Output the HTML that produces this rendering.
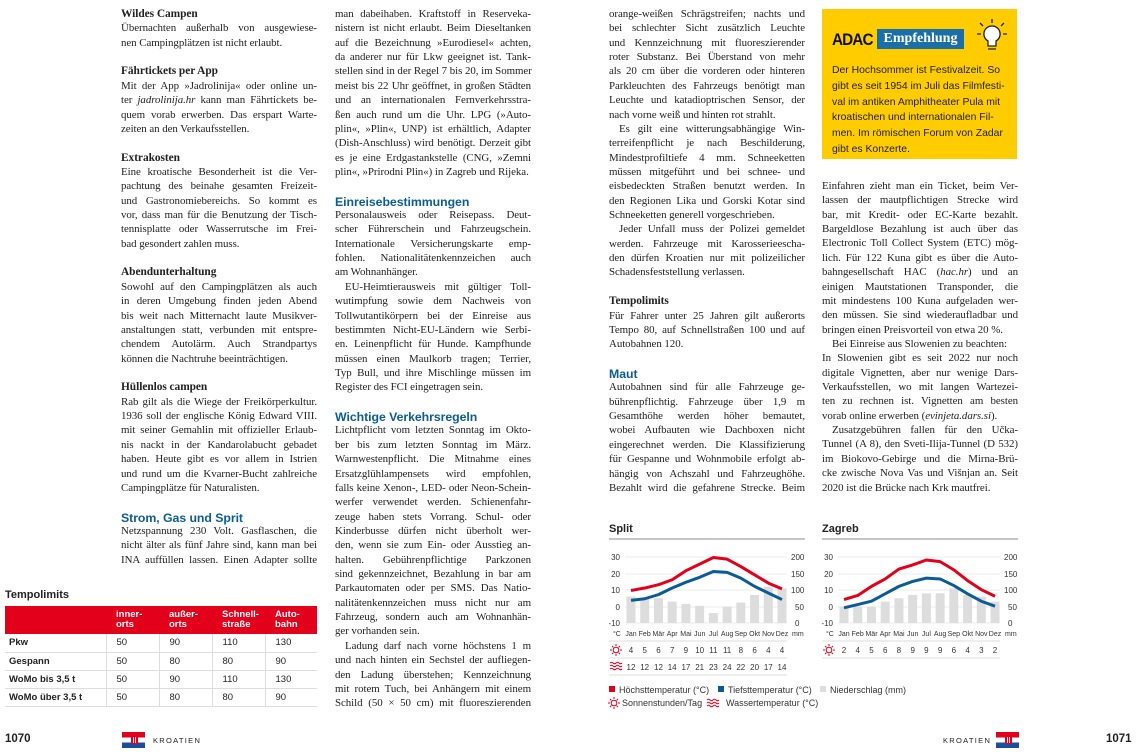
<!DOCTYPE html>
<html><head><meta charset="utf-8">
<style>
*{margin:0;padding:0;box-sizing:border-box}
body{width:1138px;height:755px;background:#fff;position:relative;overflow:hidden;font-family:"Liberation Serif",serif;color:#222}
.col{position:absolute;top:7px;width:196px;font-size:10.9px;line-height:14.36px;letter-spacing:-0.05px}
.col div{height:14.36px;white-space:nowrap;text-align:justify;text-align-last:justify;overflow:visible}
.col div.e{text-align-last:left}
.col div.i{text-indent:10px}
.col div.b{font-weight:bold;text-align-last:left;font-size:11.4px}
.col div.h{font-family:"Liberation Sans",sans-serif;font-weight:bold;color:#0b5c96;font-size:12.3px;text-align-last:left;padding-top:1px}
.sans{font-family:"Liberation Sans",sans-serif}
table{border-collapse:collapse;font-family:"Liberation Sans",sans-serif;font-size:9.5px;position:absolute;left:5px;top:606px;width:312px}
th{background:#e2001a;color:#fff;text-align:left;font-weight:bold;line-height:10px;height:28px;padding-left:10px;vertical-align:middle}
td{height:18px;border-bottom:1px solid #ddd;padding-left:10px;color:#222}
td+td{border-left:1px solid #ddd}
td:first-child{font-weight:bold;padding-left:4px}
.flag{position:absolute;width:23px;height:16px;background:linear-gradient(#e2001a 0 33%,#fff 33% 66%,#1a4fa0 66%)}
.flag:after{content:"";position:absolute;left:9px;top:4px;width:5px;height:6px;background:repeating-linear-gradient(90deg,#e2001a 0 1px,#fff 1px 2px);border:1px solid #e2001a}
</style></head><body>

<div class="col" style="left:121px">
<div class="b">Wildes Campen</div>
<div>Übernachten außerhalb von ausgewiese-</div>
<div class="e">nen Campingplätzen ist nicht erlaubt.</div>
<div></div>
<div class="b">Fährtickets per App</div>
<div>Mit der App »Jadrolinija« oder online un-</div>
<div>ter <i>jadrolinija.hr</i> kann man Fährtickets be-</div>
<div>quem vorab erwerben. Das erspart Warte-</div>
<div class="e">zeiten an den Verkaufsstellen.</div>
<div></div>
<div class="b">Extrakosten</div>
<div>Eine kroatische Besonderheit ist die Ver-</div>
<div>pachtung des beinahe gesamten Freizeit-</div>
<div>und Gastronomiebereichs. So kommt es</div>
<div>vor, dass man für die Benutzung der Tisch-</div>
<div>tennisplatte oder Wasserrutsche im Frei-</div>
<div class="e">bad gesondert zahlen muss.</div>
<div></div>
<div class="b">Abendunterhaltung</div>
<div>Sowohl auf den Campingplätzen als auch</div>
<div>in deren Umgebung finden jeden Abend</div>
<div>bis weit nach Mitternacht laute Musikver-</div>
<div>anstaltungen statt, verbunden mit entspre-</div>
<div>chendem Autolärm. Auch Strandpartys</div>
<div class="e">können die Nachtruhe beeinträchtigen.</div>
<div></div>
<div class="b">Hüllenlos campen</div>
<div>Rab gilt als die Wiege der Freikörperkultur.</div>
<div>1936 soll der englische König Edward VIII.</div>
<div>mit seiner Gemahlin mit offizieller Erlaub-</div>
<div>nis nackt in der Kandarolabucht gebadet</div>
<div>haben. Heute gibt es vor allem in Istrien</div>
<div>und rund um die Kvarner-Bucht zahlreiche</div>
<div class="e">Campingplätze für Naturalisten.</div>
<div></div>
<div class="h">Strom, Gas und Sprit</div>
<div>Netzspannung 230 Volt. Gasflaschen, die</div>
<div>nicht älter als fünf Jahre sind, kann man bei</div>
<div>INA auffüllen lassen. Einen Adapter sollte</div>
</div>

<div class="col" style="left:335px">
<div>man dabeihaben. Kraftstoff in Reserveka-</div>
<div>nistern ist nicht erlaubt. Beim Dieseltanken</div>
<div>auf die Bezeichnung »Eurodiesel« achten,</div>
<div>da anderer nur für Lkw geeignet ist. Tank-</div>
<div>stellen sind in der Regel 7 bis 20, im Sommer</div>
<div>meist bis 22 Uhr geöffnet, in großen Städten</div>
<div>und an internationalen Fernverkehrsstra-</div>
<div>ßen auch rund um die Uhr. LPG (»Auto-</div>
<div>plin«, »Plin«, UNP) ist erhältlich, Adapter</div>
<div>(Dish-Anschluss) wird benötigt. Derzeit gibt</div>
<div>es je eine Erdgastankstelle (CNG, »Zemni</div>
<div class="e">plin«, »Prirodni Plin«) in Zagreb und Rijeka.</div>
<div></div>
<div class="h">Einreisebestimmungen</div>
<div>Personalausweis oder Reisepass. Deut-</div>
<div>scher Führerschein und Fahrzeugschein.</div>
<div>Internationale Versicherungskarte emp-</div>
<div>fohlen. Nationalitätenkennzeichen auch</div>
<div class="e">am Wohnanhänger.</div>
<div class="i">EU-Heimtierausweis mit gültiger Toll-</div>
<div>wutimpfung sowie dem Nachweis von</div>
<div>Tollwutantikörpern bei der Einreise aus</div>
<div>bestimmten Nicht-EU-Ländern wie Serbi-</div>
<div>en. Leinenpflicht für Hunde. Kampfhunde</div>
<div>müssen einen Maulkorb tragen; Terrier,</div>
<div>Typ Bull, und ihre Mischlinge müssen im</div>
<div class="e">Register des FCI eingetragen sein.</div>
<div></div>
<div class="h">Wichtige Verkehrsregeln</div>
<div>Lichtpflicht vom letzten Sonntag im Okto-</div>
<div>ber bis zum letzten Sonntag im März.</div>
<div>Warnwestenpflicht. Die Mitnahme eines</div>
<div>Ersatzglühlampensets wird empfohlen,</div>
<div>falls keine Xenon-, LED- oder Neon-Schein-</div>
<div>werfer verwendet werden. Schienenfahr-</div>
<div>zeuge haben stets Vorrang. Schul- oder</div>
<div>Kinderbusse dürfen nicht überholt wer-</div>
<div>den, wenn sie zum Ein- oder Ausstieg an-</div>
<div>halten. Gebührenpflichtige Parkzonen</div>
<div>sind gekennzeichnet, Bezahlung in bar am</div>
<div>Parkautomaten oder per SMS. Das Natio-</div>
<div>nalitätenkennzeichen muss nicht nur am</div>
<div>Fahrzeug, sondern auch am Wohnanhän-</div>
<div class="e">ger vorhanden sein.</div>
<div class="i">Ladung darf nach vorne höchstens 1 m</div>
<div>und nach hinten ein Sechstel der aufliegen-</div>
<div>den Ladung überstehen; Kennzeichnung</div>
<div>mit rotem Tuch, bei Anhängern mit einem</div>
<div>Schild (50 × 50 cm) mit fluoreszierenden</div>
</div>

<div class="col" style="left:609px">
<div>orange-weißen Schrägstreifen; nachts und</div>
<div>bei schlechter Sicht zusätzlich Leuchte</div>
<div>und Kennzeichnung mit fluoreszierender</div>
<div>roter Substanz. Bei Überstand von mehr</div>
<div>als 20 cm über die vorderen oder hinteren</div>
<div>Parkleuchten des Fahrzeugs benötigt man</div>
<div>Leuchte und katadioptrischen Sensor, der</div>
<div class="e">nach vorne weiß und hinten rot strahlt.</div>
<div class="i">Es gilt eine witterungsabhängige Win-</div>
<div>terreifenpflicht je nach Beschilderung,</div>
<div>Mindestprofiltiefe 4 mm. Schneeketten</div>
<div>müssen mitgeführt und bei schnee- und</div>
<div>eisbedeckten Straßen benutzt werden. In</div>
<div>den Regionen Lika und Gorski Kotar sind</div>
<div class="e">Schneeketten generell vorgeschrieben.</div>
<div class="i">Jeder Unfall muss der Polizei gemeldet</div>
<div>werden. Fahrzeuge mit Karosserieescha-</div>
<div>den dürfen Kroatien nur mit polizeilicher</div>
<div class="e">Schadensfeststellung verlassen.</div>
<div></div>
<div class="b">Tempolimits</div>
<div>Für Fahrer unter 25 Jahren gilt außerorts</div>
<div>Tempo 80, auf Schnellstraßen 100 und auf</div>
<div class="e">Autobahnen 120.</div>
<div></div>
<div class="h">Maut</div>
<div>Autobahnen sind für alle Fahrzeuge ge-</div>
<div>bührenpflichtig. Fahrzeuge über 1,9 m</div>
<div>Gesamthöhe werden höher bemautet,</div>
<div>wobei Aufbauten wie Dachboxen nicht</div>
<div>eingerechnet werden. Die Klassifizierung</div>
<div>für Gespanne und Wohnmobile erfolgt ab-</div>
<div>hängig von Achszahl und Fahrzeughöhe.</div>
<div>Bezahlt wird die gefahrene Strecke. Beim</div>
</div>

<div class="col" style="left:822px;top:179px">
<div>Einfahren zieht man ein Ticket, beim Ver-</div>
<div>lassen der mautpflichtigen Strecke wird</div>
<div>bar, mit Kredit- oder EC-Karte bezahlt.</div>
<div>Bargeldlose Bezahlung ist auch über das</div>
<div>Electronic Toll Collect System (ETC) mög-</div>
<div>lich. Für 122 Kuna gibt es über die Auto-</div>
<div>bahngesellschaft HAC (<i>hac.hr</i>) und an</div>
<div>einigen Mautstationen Transponder, die</div>
<div>mit mindestens 100 Kuna aufgeladen wer-</div>
<div>den müssen. Sie sind wiederaufladbar und</div>
<div class="e">bringen einen Preisvorteil von etwa 20 %.</div>
<div class="i e">Bei Einreise aus Slowenien zu beachten:</div>
<div>In Slowenien gibt es seit 2022 nur noch</div>
<div>digitale Vignetten, aber nur wenige Dars-</div>
<div>Verkaufsstellen, wo mit langen Wartezei-</div>
<div>ten zu rechnen ist. Vignetten am besten</div>
<div class="e">vorab online erwerben (<i>evinjeta.dars.si</i>).</div>
<div class="i">Zusatzgebühren fallen für den Učka-</div>
<div>Tunnel (A 8), den Sveti-Ilija-Tunnel (D 532)</div>
<div>im Biokovo-Gebirge und die Mirna-Brü-</div>
<div>cke zwische Nova Vas und Višnjan an. Seit</div>
<div class="e">2020 ist die Brücke nach Krk mautfrei.</div>
</div>

<!-- ADAC box -->
<div style="position:absolute;left:822px;top:9px;width:195px;height:150px;background:#ffcc00"></div>
<div class="sans" style="position:absolute;left:832px;top:30px;font-size:17px;font-weight:bold;letter-spacing:-1px;transform:scaleX(0.9);transform-origin:left;color:#111">ADAC</div>
<div style="position:absolute;left:877px;top:29px;width:87px;height:20px;background:#1a6fa8;color:#fff;font-weight:bold;font-size:14px;line-height:20px;text-align:center">Empfehlung</div>
<svg style="position:absolute;left:975px;top:18px" width="34" height="36" viewBox="0 0 34 36"><g stroke="#222" stroke-width="1.3" fill="none"><path d="M17 8a8 8 0 0 1 4 15v5h-8v-5a8 8 0 0 1 4-15z" fill="#fff"/><path d="M13 31h8M17 1v4M5 5l3 3M29 5l-3 3M2 16h4M28 16h4"/></g></svg>
<div class="sans" style="position:absolute;left:832px;top:63px;font-size:10.4px;line-height:15.8px;color:#222">Der Hochsommer ist Festivalzeit. So<br>gibt es seit 1954 im Juli das Filmfesti-<br>val im antiken Amphitheater Pula mit<br>kroatischen und internationalen Fil-<br>men. Im römischen Forum von Zadar<br>gibt es Konzerte.</div>

<!-- Table -->
<div class="sans" style="position:absolute;left:5px;top:589px;font-size:11px;font-weight:bold">Tempolimits</div>
<table>
<tr><th style="width:101px"></th><th style="width:53px">inner-<br>orts</th><th style="width:53px">außer-<br>orts</th><th style="width:53px">Schnell-<br>straße</th><th>Auto-<br>bahn</th></tr>
<tr><td>Pkw</td><td>50</td><td>90</td><td>110</td><td>130</td></tr>
<tr><td>Gespann</td><td>50</td><td>80</td><td>80</td><td>90</td></tr>
<tr><td>WoMo bis 3,5 t</td><td>50</td><td>90</td><td>110</td><td>130</td></tr>
<tr><td>WoMo über 3,5 t</td><td>50</td><td>80</td><td>80</td><td>90</td></tr>
</table>

<!-- Footer -->
<div class="sans" style="position:absolute;left:5px;top:733px;font-size:11.5px;font-weight:bold">1070</div>
<div class="flag" style="left:122px;top:732px"></div>
<div class="sans" style="position:absolute;left:153px;top:736px;font-size:7.5px;letter-spacing:1.3px">KROATIEN</div>
<div class="sans" style="position:absolute;left:943px;top:736px;font-size:7.5px;letter-spacing:1.3px">KROATIEN</div>
<div class="flag" style="left:996px;top:732px"></div>
<div class="sans" style="position:absolute;left:1106px;top:733px;font-size:11.5px;font-weight:bold">1071</div>

<!-- Charts -->
<svg id="ch" style="position:absolute;left:0;top:0" width="1138" height="755" font-family="Liberation Sans, sans-serif" font-size="8" fill="#333">
<g id="c1">
<text x="609" y="532" font-size="11" font-weight="bold" fill="#222">Split</text>
<line x1="609" y1="539" x2="805" y2="539" stroke="#666" stroke-width="0.8"/>
<g text-anchor="end"><text x="620" y="560">30</text><text x="620" y="577">20</text><text x="620" y="593">10</text><text x="620" y="610">0</text><text x="620" y="626">-10</text></g>
<g><text x="791" y="560">200</text><text x="791" y="577">150</text><text x="791" y="593">100</text><text x="795" y="610">50</text><text x="795" y="626">0</text><text x="792" y="636" font-size="7">mm</text></g>
<text x="613" y="636" font-size="7">°C</text>
<g text-anchor="middle" font-size="7"><text x="631" y="636">Jan</text><text x="644.7" y="636">Feb</text><text x="658.5" y="636">Mär</text><text x="672.2" y="636">Apr</text><text x="685.9" y="636">Mai</text><text x="699.7" y="636">Jun</text><text x="713.4" y="636">Jul</text><text x="727.1" y="636">Aug</text><text x="740.8" y="636">Sep</text><text x="754.6" y="636">Okt</text><text x="768.3" y="636">Nov</text><text x="782" y="636">Dez</text></g>
<line x1="609" y1="641" x2="787" y2="641" stroke="#ddd"/><line x1="609" y1="658" x2="787" y2="658" stroke="#ddd"/><line x1="609" y1="675" x2="787" y2="675" stroke="#ddd"/>
<g text-anchor="middle"><text x="631" y="653">4</text><text x="644.7" y="653">5</text><text x="658.5" y="653">6</text><text x="672.2" y="653">7</text><text x="685.9" y="653">9</text><text x="699.7" y="653">10</text><text x="713.4" y="653">11</text><text x="727.1" y="653">11</text><text x="740.8" y="653">8</text><text x="754.6" y="653">6</text><text x="768.3" y="653">4</text><text x="782" y="653">4</text></g>
<g text-anchor="middle"><text x="631" y="670">12</text><text x="644.7" y="670">12</text><text x="658.5" y="670">12</text><text x="672.2" y="670">14</text><text x="685.9" y="670">17</text><text x="699.7" y="670">21</text><text x="713.4" y="670">23</text><text x="727.1" y="670">24</text><text x="740.8" y="670">22</text><text x="754.6" y="670">20</text><text x="768.3" y="670">17</text><text x="782" y="670">14</text></g>
</g>
<g>
<text x="822" y="532" font-size="11" font-weight="bold" fill="#222">Zagreb</text>
<line x1="822" y1="539" x2="1018" y2="539" stroke="#666" stroke-width="0.8"/>
<g text-anchor="end"><text x="833" y="560">30</text><text x="833" y="577">20</text><text x="833" y="593">10</text><text x="833" y="610">0</text><text x="833" y="626">-10</text></g>
<g><text x="1004" y="560">200</text><text x="1004" y="577">150</text><text x="1004" y="593">100</text><text x="1008" y="610">50</text><text x="1008" y="626">0</text><text x="1005" y="636" font-size="7">mm</text></g>
<text x="826" y="636" font-size="7">°C</text>
<g text-anchor="middle" font-size="7"><text x="844" y="636">Jan</text><text x="857.7" y="636">Feb</text><text x="871.5" y="636">Mär</text><text x="885.2" y="636">Apr</text><text x="898.9" y="636">Mai</text><text x="912.7" y="636">Jun</text><text x="926.4" y="636">Jul</text><text x="940.1" y="636">Aug</text><text x="953.8" y="636">Sep</text><text x="967.6" y="636">Okt</text><text x="981.3" y="636">Nov</text><text x="995" y="636">Dez</text></g>
<line x1="822" y1="641" x2="1000" y2="641" stroke="#ddd"/><line x1="822" y1="658" x2="1000" y2="658" stroke="#ddd"/>
<g text-anchor="middle"><text x="844" y="653">2</text><text x="857.7" y="653">4</text><text x="871.5" y="653">5</text><text x="885.2" y="653">6</text><text x="898.9" y="653">8</text><text x="912.7" y="653">9</text><text x="926.4" y="653">9</text><text x="940.1" y="653">9</text><text x="953.8" y="653">6</text><text x="967.6" y="653">4</text><text x="981.3" y="653">3</text><text x="995" y="653">2</text></g>
</g>
<g id="dyn"></g>
<g stroke="#e2001a" stroke-width="1" fill="none">
<circle cx="616" cy="650" r="2.8"/><path d="M616 644v2M616 654v2M610 650h2M620 650h2M612 646l1.4 1.4M620 646l-1.4 1.4M612 654l1.4-1.4M620 654l-1.4-1.4"/>
<circle cx="829" cy="650" r="2.8"/><path d="M829 644v2M829 654v2M823 650h2M833 650h2M825 646l1.4 1.4M833 646l-1.4 1.4M825 654l1.4-1.4M833 654l-1.4-1.4"/>
<path d="M610 663q1.5-1.5 3 0t3 0 3 0 3 0M610 666q1.5-1.5 3 0t3 0 3 0 3 0M610 669q1.5-1.5 3 0t3 0 3 0 3 0"/>
<circle cx="614" cy="703" r="2.8"/><path d="M614 697v2M614 707v2M608 703h2M618 703h2M610 699l1.4 1.4M618 699l-1.4 1.4M610 707l1.4-1.4M618 707l-1.4-1.4"/>
<path d="M707 700q1.5-1.5 3 0t3 0 3 0 3 0M707 703q1.5-1.5 3 0t3 0 3 0 3 0M707 706q1.5-1.5 3 0t3 0 3 0 3 0"/>
</g>
<g font-size="9" fill="#333">
<rect x="609" y="686" width="6" height="6" fill="#e2001a"/><text x="619" y="693">Höchsttemperatur (°C)</text>
<rect x="718" y="686" width="6" height="6" fill="#0b5c96"/><text x="728" y="693">Tiefsttemperatur (°C)</text>
<rect x="820" y="686" width="6" height="6" fill="#ddd"/><text x="830" y="693">Niederschlag (mm)</text>
<text x="622" y="706">Sonnenstunden/Tag</text>
<text x="726" y="706">Wassertemperatur (°C)</text>
</g>
</svg>
<script>
(function(){
var g=document.getElementById('dyn'),ns='http://www.w3.org/2000/svg';
function add(tag,a){var e=document.createElementNS(ns,tag);for(var k in a)e.setAttribute(k,a[k]);g.appendChild(e);}
function chart(x0,pr,hi,lo){
 [557,574,590,607,623].forEach(function(y){add('line',{x1:x0+16,y1:y,x2:x0+178,y2:y,stroke:'#e4e4e4','stroke-width':0.8});});
 for(var i=0;i<12;i++){var x=x0+22+13.73*i,h=pr[i]*0.33;add('rect',{x:x-4.5,y:623-h,width:9,height:h,fill:'#ddd'});}
 function pts(a){return a.map(function(t,i){return (x0+22+13.73*i)+','+(607-t*1.65);}).join(' ');}
 add('polyline',{points:pts(hi),fill:'none',stroke:'#e2001a','stroke-width':3,'stroke-linejoin':'round'});
 add('polyline',{points:pts(lo),fill:'none',stroke:'#0b5c96','stroke-width':3,'stroke-linejoin':'round'});
}
chart(609,[80,75,75,65,58,52,30,50,62,85,110,105],[10,11.5,13.5,16.5,22,26,30,29,24.5,19.5,14.5,11],[4,5,7.5,11.5,15,18,21.5,21,17.5,12.5,8.5,4.5]);
chart(822,[50,50,50,65,75,85,90,90,105,85,80,65],[4.5,7,12.5,17,23,25.5,28.5,27.5,22.5,16,10.5,6.5],[-0.5,1.5,3.5,8,12.5,15.5,17.5,17,13,8,3.5,0.5]);
})();
</script>
</body></html>
